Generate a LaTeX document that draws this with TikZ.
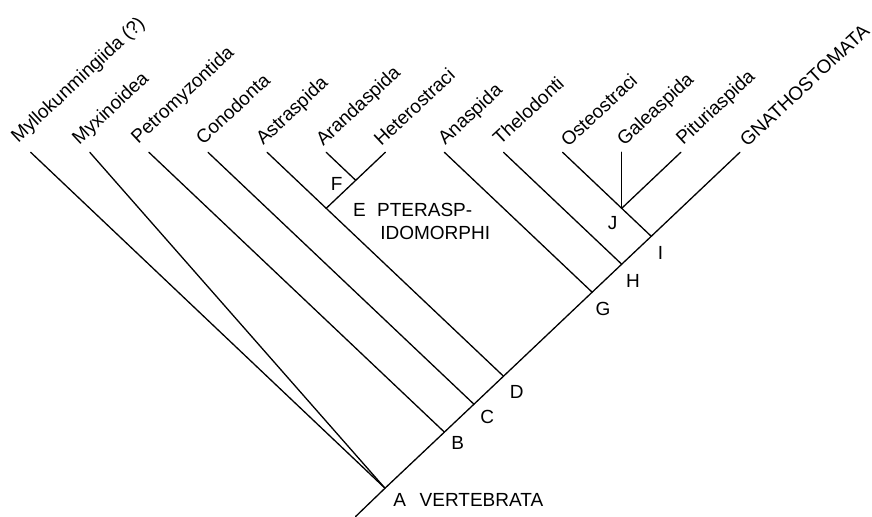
\documentclass[tikz,border=0pt]{standalone}
\usepackage{fontspec}
\setmainfont{Liberation Sans}
\newcommand\labfont{\fontsize{9.5}{11.4}\selectfont}
\begin{document}
\begin{tikzpicture}[x=0.5pt,y=-0.5pt,
  branch/.style={line width=0.65pt, line cap=round},
  leaf/.style={anchor=base west, inner sep=0pt, rotate=43, font=\labfont},
  letter/.style={anchor=center, inner sep=0pt, font=\labfont},
  clade/.style={anchor=base west, inner sep=0pt, font=\labfont}]
\useasboundingbox (0,0) rectangle (872,516);
% leaf tips
\coordinate (t0) at (30.7,152.3);
\coordinate (t1) at (89.8,152.3);
\coordinate (t2) at (148.9,152.3);
\coordinate (t3) at (208.0,152.3);
\coordinate (t4) at (267.1,152.3);
\coordinate (t5) at (326.2,152.3);
\coordinate (t6) at (385.3,152.3);
\coordinate (t7) at (444.4,152.3);
\coordinate (t8) at (503.5,152.3);
\coordinate (t9) at (562.6,152.3);
\coordinate (t10) at (621.7,152.3);
\coordinate (t11) at (680.8,152.3);
\coordinate (t12) at (739.9,152.3);
% junctions
\coordinate (root) at (355.6,516.5);
\coordinate (jA) at (385,488.2);
\coordinate (jB) at (444.4,432.1);
\coordinate (jC) at (473.95,404.2);
\coordinate (jD) at (503.5,376.2);
\coordinate (jE) at (326.2,208.3);
\coordinate (jF) at (355.75,180.3);
\coordinate (jG) at (592.15,292.2);
\coordinate (jH) at (621.7,264.2);
\coordinate (jI) at (651.25,236.3);
\coordinate (jJ) at (621.7,208.3);
% branches
\draw[branch] (root) -- (jA) -- (jB) -- (jC) -- (jD) -- (jG) -- (jH) -- (jI) -- (t12);
\draw[branch] (t0) -- (jA);
\draw[branch] (t1) -- (jA);
\draw[branch] (t2) -- (jB);
\draw[branch] (t3) -- (jC);
\draw[branch] (t4) -- (jE) -- (jD);
\draw[branch] (t5) -- (jF);
\draw[branch] (t6) -- (jF) -- (jE);
\draw[branch] (t7) -- (jG);
\draw[branch] (t8) -- (jH);
\draw[branch] (t9) -- (jJ) -- (jI);
\draw[branch] (t10) -- (jJ);
\draw[branch] (t11) -- (jJ);
% leaf labels
\node[leaf] (l0) at (18,144) {Myllokunmingiida (?)};
\node[leaf] (l1) at (79,146) {Myxinoidea};
\node[leaf] (l2) at (138,144.5) {Petromyzontida};
\node[leaf] (l3) at (203,145.5) {Conodonta};
\node[leaf] (l4) at (263,146) {Astraspida};
\node[leaf] (l5) at (323,147) {Arandaspida};
\node[leaf] (l6) at (381,147) {Heterostraci};
\node[leaf] (l7) at (445,146) {Anaspida};
\node[leaf] (l8) at (500,146) {Thelodonti};
\node[leaf] (l9) at (568,148) {Osteostraci};
\node[leaf] (l10) at (624,147) {Galeaspida};
\node[leaf] (l11) at (683,146) {Pituriaspida};
\node[leaf] (l12) at (747,148) {GNATHOSTOMATA};
% junction letters
\node[letter] (nA) at (399.7,500) {A};
\node[letter] (nB) at (457.7,443.3) {B};
\node[letter] (nC) at (487.3,417.3) {C};
\node[letter] (nD) at (516.7,391.7) {D};
\node[letter] (nE) at (359.5,210) {E};
\node[letter] (nF) at (336.7,183.7) {F};
\node[letter] (nG) at (603,309) {G};
\node[letter] (nH) at (633,280.7) {H};
\node[letter] (nI) at (660.5,253.3) {I};
\node[letter] (nJ) at (612.5,223.3) {J};
% clade names
\node[clade] (vert) at (419.3,506.7) {VERTEBRATA};
\node[clade] (pter1) at (376.8,216.7) {PTERASP-};
\node[clade] (pter2) at (379.9,239.3) {IDOMORPHI};
\end{tikzpicture}
\end{document}
